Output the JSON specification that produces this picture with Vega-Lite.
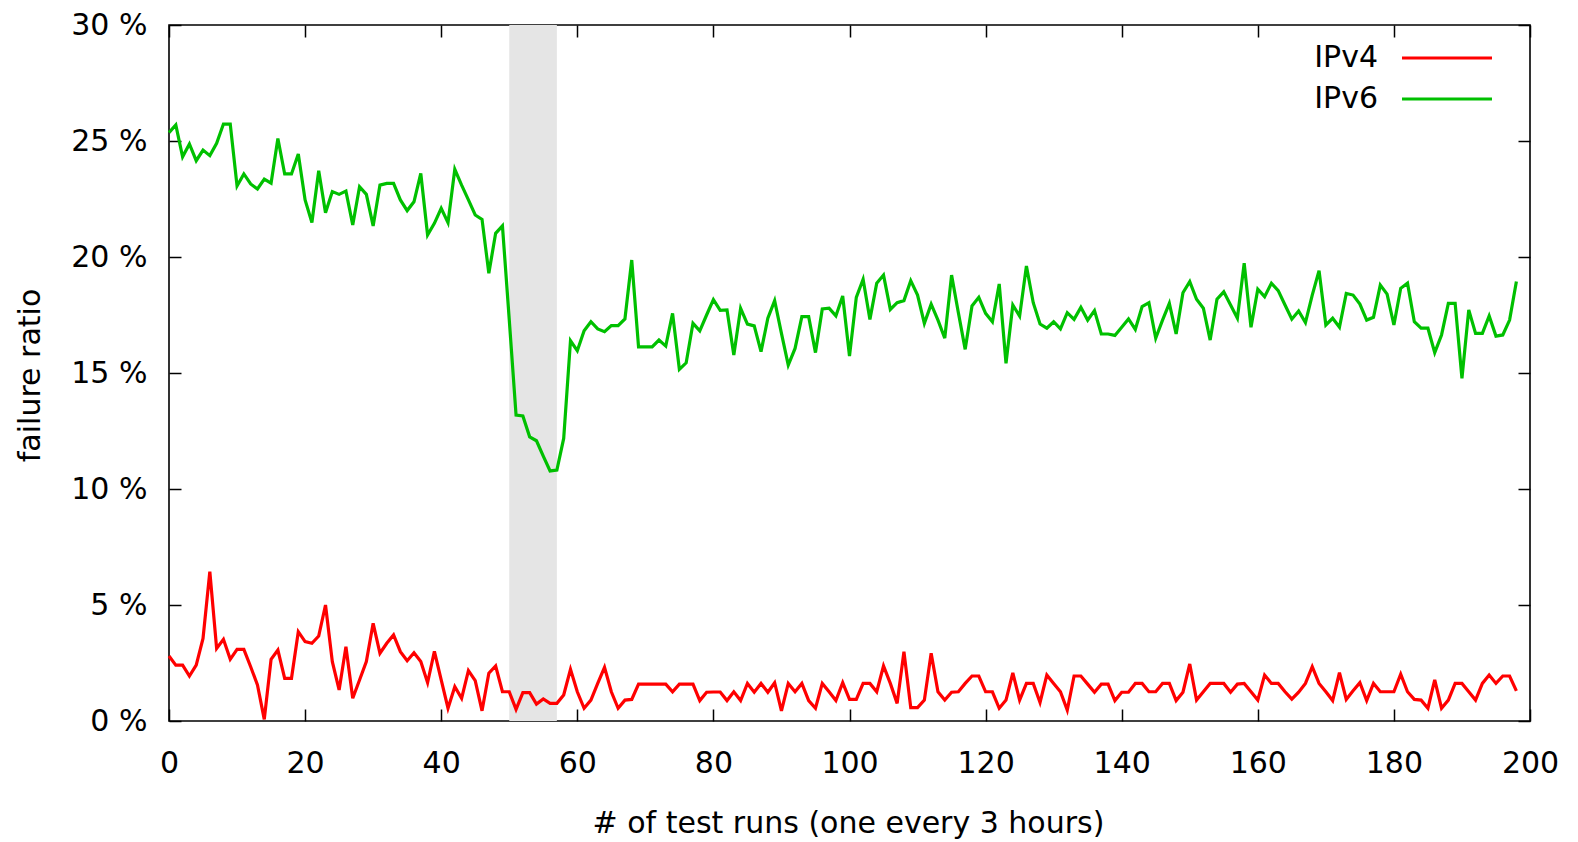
{
  "$schema": "https://vega.github.io/schema/vega-lite/v6.json",
  "width": 1361,
  "height": 696,
  "autosize": "none",
  "padding": {"left": 169, "top": 25, "right": 48, "bottom": 121},
  "background": "white",
  "config": {
    "view": {"stroke": "black", "strokeWidth": 1.6},
    "font": "DejaVu Sans",
    "axis": {
      "grid": false, "domain": false, "tickColor": "black", "tickWidth": 1.5, "tickSize": -12,
      "labelFont": "DejaVu Sans", "labelFontSize": 30, "labelColor": "black",
      "titleFont": "DejaVu Sans", "titleFontSize": 30, "titleFontWeight": "normal", "titleColor": "black"
    },
    "legend": {
      "orient": "none", "legendX": 1263, "legendY": 18, "title": null,
      "symbolType": "M-4,0L4,0", "symbolSize": 506, "symbolStrokeWidth": 3,
      "labelFont": "DejaVu Sans", "labelFontSize": 30, "labelColor": "black",
      "labelAlign": "right", "labelOffset": -84, "rowPadding": 11
    }
  },
  "datasets": {
    "runs": [
      {"run":0,"IPv4":2.8,"IPv6":25.36},{"run":1,"IPv4":2.41,"IPv6":25.69},{"run":2,"IPv4":2.41,"IPv6":24.32},{"run":3,"IPv4":1.94,"IPv6":24.87},{"run":4,"IPv4":2.41,"IPv6":24.15},
      {"run":5,"IPv4":3.56,"IPv6":24.61},{"run":6,"IPv4":6.44,"IPv6":24.37},{"run":7,"IPv4":3.13,"IPv6":24.9},{"run":8,"IPv4":3.52,"IPv6":25.73},{"run":9,"IPv4":2.66,"IPv6":25.73},
      {"run":10,"IPv4":3.09,"IPv6":23.06},{"run":11,"IPv4":3.09,"IPv6":23.58},{"run":12,"IPv4":2.34,"IPv6":23.15},{"run":13,"IPv4":1.55,"IPv6":22.93},{"run":14,"IPv4":0.07,"IPv6":23.36},
      {"run":15,"IPv4":2.66,"IPv6":23.18},{"run":16,"IPv4":3.06,"IPv6":25.11},{"run":17,"IPv4":1.84,"IPv6":23.58},{"run":18,"IPv4":1.84,"IPv6":23.58},{"run":19,"IPv4":3.85,"IPv6":24.44},
      {"run":20,"IPv4":3.42,"IPv6":22.46},{"run":21,"IPv4":3.35,"IPv6":21.49},{"run":22,"IPv4":3.66,"IPv6":23.72},{"run":23,"IPv4":5.0,"IPv6":21.91},{"run":24,"IPv4":2.56,"IPv6":22.82},
      {"run":25,"IPv4":1.34,"IPv6":22.7},{"run":26,"IPv4":3.2,"IPv6":22.84},{"run":27,"IPv4":0.98,"IPv6":21.38},{"run":28,"IPv4":1.77,"IPv6":23.03},{"run":29,"IPv4":2.56,"IPv6":22.7},
      {"run":30,"IPv4":4.21,"IPv6":21.34},{"run":31,"IPv4":2.92,"IPv6":23.1},{"run":32,"IPv4":3.35,"IPv6":23.17},{"run":33,"IPv4":3.71,"IPv6":23.17},{"run":34,"IPv4":2.99,"IPv6":22.46},
      {"run":35,"IPv4":2.6,"IPv6":22.0},{"run":36,"IPv4":2.94,"IPv6":22.38},{"run":37,"IPv4":2.56,"IPv6":23.6},{"run":38,"IPv4":1.65,"IPv6":20.95},{"run":39,"IPv4":3.0,"IPv6":21.45},
      {"run":40,"IPv4":1.77,"IPv6":22.1},{"run":41,"IPv4":0.55,"IPv6":21.48},{"run":42,"IPv4":1.48,"IPv6":23.78},{"run":43,"IPv4":0.98,"IPv6":23.1},{"run":44,"IPv4":2.17,"IPv6":22.46},
      {"run":45,"IPv4":1.74,"IPv6":21.81},{"run":46,"IPv4":0.44,"IPv6":21.62},{"run":47,"IPv4":2.06,"IPv6":19.3},{"run":48,"IPv4":2.37,"IPv6":21.02},{"run":49,"IPv4":1.26,"IPv6":21.34},
      {"run":50,"IPv4":1.26,"IPv6":17.3},{"run":51,"IPv4":0.5,"IPv6":13.19},{"run":52,"IPv4":1.22,"IPv6":13.15},{"run":53,"IPv4":1.22,"IPv6":12.25},{"run":54,"IPv4":0.73,"IPv6":12.08},
      {"run":55,"IPv4":0.95,"IPv6":11.42},{"run":56,"IPv4":0.76,"IPv6":10.78},{"run":57,"IPv4":0.76,"IPv6":10.82},{"run":58,"IPv4":1.12,"IPv6":12.18},{"run":59,"IPv4":2.23,"IPv6":16.39},
      {"run":60,"IPv4":1.26,"IPv6":15.96},{"run":61,"IPv4":0.55,"IPv6":16.82},{"run":62,"IPv4":0.9,"IPv6":17.21},{"run":63,"IPv4":1.62,"IPv6":16.9},{"run":64,"IPv4":2.31,"IPv6":16.78},
      {"run":65,"IPv4":1.26,"IPv6":17.04},{"run":66,"IPv4":0.55,"IPv6":17.04},{"run":67,"IPv4":0.9,"IPv6":17.33},{"run":68,"IPv4":0.93,"IPv6":19.87},{"run":69,"IPv4":1.59,"IPv6":16.13},
      {"run":70,"IPv4":1.59,"IPv6":16.13},{"run":71,"IPv4":1.59,"IPv6":16.13},{"run":72,"IPv4":1.59,"IPv6":16.42},{"run":73,"IPv4":1.59,"IPv6":16.16},{"run":74,"IPv4":1.26,"IPv6":17.57},
      {"run":75,"IPv4":1.59,"IPv6":15.16},{"run":76,"IPv4":1.59,"IPv6":15.44},{"run":77,"IPv4":1.59,"IPv6":17.14},{"run":78,"IPv4":0.88,"IPv6":16.82},{"run":79,"IPv4":1.24,"IPv6":17.5},
      {"run":80,"IPv4":1.25,"IPv6":18.16},{"run":81,"IPv4":1.25,"IPv6":17.7},{"run":82,"IPv4":0.88,"IPv6":17.72},{"run":83,"IPv4":1.26,"IPv6":15.78},{"run":84,"IPv4":0.88,"IPv6":17.79},
      {"run":85,"IPv4":1.62,"IPv6":17.11},{"run":86,"IPv4":1.24,"IPv6":17.03},{"run":87,"IPv4":1.62,"IPv6":15.92},{"run":88,"IPv4":1.24,"IPv6":17.36},{"run":89,"IPv4":1.65,"IPv6":18.12},
      {"run":90,"IPv4":0.44,"IPv6":16.71},{"run":91,"IPv4":1.62,"IPv6":15.34},{"run":92,"IPv4":1.26,"IPv6":16.06},{"run":93,"IPv4":1.62,"IPv6":17.43},{"run":94,"IPv4":0.88,"IPv6":17.43},
      {"run":95,"IPv4":0.55,"IPv6":15.88},{"run":96,"IPv4":1.62,"IPv6":17.76},{"run":97,"IPv4":1.26,"IPv6":17.79},{"run":98,"IPv4":0.88,"IPv6":17.46},{"run":99,"IPv4":1.65,"IPv6":18.32},
      {"run":100,"IPv4":0.93,"IPv6":15.73},{"run":101,"IPv4":0.93,"IPv6":18.26},{"run":102,"IPv4":1.62,"IPv6":19.04},{"run":103,"IPv4":1.62,"IPv6":17.31},{"run":104,"IPv4":1.26,"IPv6":18.87},
      {"run":105,"IPv4":2.37,"IPv6":19.22},{"run":106,"IPv4":1.62,"IPv6":17.74},{"run":107,"IPv4":0.76,"IPv6":18.03},{"run":108,"IPv4":2.99,"IPv6":18.12},{"run":109,"IPv4":0.58,"IPv6":18.98},
      {"run":110,"IPv4":0.58,"IPv6":18.36},{"run":111,"IPv4":0.9,"IPv6":17.14},{"run":112,"IPv4":2.92,"IPv6":17.97},{"run":113,"IPv4":1.26,"IPv6":17.28},{"run":114,"IPv4":0.9,"IPv6":16.5},
      {"run":115,"IPv4":1.24,"IPv6":19.22},{"run":116,"IPv4":1.26,"IPv6":17.6},{"run":117,"IPv4":1.62,"IPv6":16.02},{"run":118,"IPv4":1.94,"IPv6":17.89},{"run":119,"IPv4":1.94,"IPv6":18.26},
      {"run":120,"IPv4":1.26,"IPv6":17.57},{"run":121,"IPv4":1.26,"IPv6":17.21},{"run":122,"IPv4":0.55,"IPv6":18.84},{"run":123,"IPv4":0.9,"IPv6":15.42},{"run":124,"IPv4":2.07,"IPv6":17.93},
      {"run":125,"IPv4":0.9,"IPv6":17.45},{"run":126,"IPv4":1.62,"IPv6":19.61},{"run":127,"IPv4":1.62,"IPv6":18.03},{"run":128,"IPv4":0.8,"IPv6":17.11},{"run":129,"IPv4":1.98,"IPv6":16.93},
      {"run":130,"IPv4":1.62,"IPv6":17.21},{"run":131,"IPv4":1.26,"IPv6":16.9},{"run":132,"IPv4":0.47,"IPv6":17.6},{"run":133,"IPv4":1.94,"IPv6":17.31},{"run":134,"IPv4":1.94,"IPv6":17.83},
      {"run":135,"IPv4":1.59,"IPv6":17.28},{"run":136,"IPv4":1.24,"IPv6":17.69},{"run":137,"IPv4":1.59,"IPv6":16.68},{"run":138,"IPv4":1.59,"IPv6":16.68},{"run":139,"IPv4":0.88,"IPv6":16.62},
      {"run":140,"IPv4":1.24,"IPv6":16.97},{"run":141,"IPv4":1.24,"IPv6":17.33},{"run":142,"IPv4":1.62,"IPv6":16.88},{"run":143,"IPv4":1.62,"IPv6":17.86},{"run":144,"IPv4":1.26,"IPv6":18.03},
      {"run":145,"IPv4":1.26,"IPv6":16.5},{"run":146,"IPv4":1.62,"IPv6":17.28},{"run":147,"IPv4":1.62,"IPv6":18.0},{"run":148,"IPv4":0.88,"IPv6":16.68},{"run":149,"IPv4":1.24,"IPv6":18.46},
      {"run":150,"IPv4":2.46,"IPv6":18.94},{"run":151,"IPv4":0.9,"IPv6":18.18},{"run":152,"IPv4":1.26,"IPv6":17.79},{"run":153,"IPv4":1.62,"IPv6":16.42},{"run":154,"IPv4":1.62,"IPv6":18.18},
      {"run":155,"IPv4":1.62,"IPv6":18.5},{"run":156,"IPv4":1.24,"IPv6":17.93},{"run":157,"IPv4":1.59,"IPv6":17.36},{"run":158,"IPv4":1.62,"IPv6":19.73},{"run":159,"IPv4":1.26,"IPv6":16.97},
      {"run":160,"IPv4":0.9,"IPv6":18.61},{"run":161,"IPv4":1.98,"IPv6":18.29},{"run":162,"IPv4":1.62,"IPv6":18.87},{"run":163,"IPv4":1.62,"IPv6":18.55},{"run":164,"IPv4":1.26,"IPv6":17.93},
      {"run":165,"IPv4":0.94,"IPv6":17.32},{"run":166,"IPv4":1.24,"IPv6":17.67},{"run":167,"IPv4":1.62,"IPv6":17.17},{"run":168,"IPv4":2.34,"IPv6":18.36},{"run":169,"IPv4":1.62,"IPv6":19.41},
      {"run":170,"IPv4":1.26,"IPv6":17.07},{"run":171,"IPv4":0.88,"IPv6":17.36},{"run":172,"IPv4":2.08,"IPv6":16.97},{"run":173,"IPv4":0.93,"IPv6":18.43},{"run":174,"IPv4":1.3,"IPv6":18.36},
      {"run":175,"IPv4":1.65,"IPv6":17.97},{"run":176,"IPv4":0.88,"IPv6":17.28},{"run":177,"IPv4":1.62,"IPv6":17.4},{"run":178,"IPv4":1.26,"IPv6":18.79},{"run":179,"IPv4":1.26,"IPv6":18.4},
      {"run":180,"IPv4":1.26,"IPv6":17.07},{"run":181,"IPv4":2.02,"IPv6":18.65},{"run":182,"IPv4":1.26,"IPv6":18.87},{"run":183,"IPv4":0.93,"IPv6":17.21},{"run":184,"IPv4":0.9,"IPv6":16.93},
      {"run":185,"IPv4":0.55,"IPv6":16.93},{"run":186,"IPv4":1.77,"IPv6":15.88},{"run":187,"IPv4":0.55,"IPv6":16.64},{"run":188,"IPv4":0.9,"IPv6":18.0},{"run":189,"IPv4":1.62,"IPv6":18.0},
      {"run":190,"IPv4":1.62,"IPv6":14.77},{"run":191,"IPv4":1.26,"IPv6":17.72},{"run":192,"IPv4":0.9,"IPv6":16.71},{"run":193,"IPv4":1.62,"IPv6":16.71},{"run":194,"IPv4":1.98,"IPv6":17.46},
      {"run":195,"IPv4":1.62,"IPv6":16.59},{"run":196,"IPv4":1.94,"IPv6":16.64},{"run":197,"IPv4":1.94,"IPv6":17.28},{"run":198,"IPv4":1.3,"IPv6":18.94}
    ],
    "outage": [{"start": 50, "end": 57}]
  },
  "layer": [
    {
      "data": {"name": "outage"},
      "mark": {"type": "rect", "color": "#e5e5e5"},
      "encoding": {
        "x": {"field": "start", "type": "quantitative", "scale": {"domain": [0, 200], "nice": false}, "axis": null},
        "x2": {"field": "end"}
      }
    },
    {
      "data": {"name": "runs"},
      "transform": [{"fold": ["IPv4", "IPv6"], "as": ["protocol", "ratio"]}],
      "mark": {"type": "line", "strokeWidth": 3.2, "strokeJoin": "miter"},
      "encoding": {
        "x": {
          "field": "run", "type": "quantitative", "scale": {"domain": [0, 200], "nice": false},
          "axis": {"orient": "bottom", "values": [0,20,40,60,80,100,120,140,160,180,200], "labelFlush": false, "labelPadding": 39,
                   "title": "# of test runs (one every 3 hours)", "titleX": 679, "titleY": 102, "titleBaseline": "middle", "titleAnchor": "middle"}
        },
        "y": {
          "field": "ratio", "type": "quantitative", "scale": {"domain": [0, 30], "nice": false},
          "axis": {"orient": "left", "values": [0,5,10,15,20,25,30], "labelExpr": "datum.value + ' %'", "labelPadding": 34, "labelOffset": 0,
                   "title": "failure ratio", "titleX": -139, "titleY": 350, "titleAngle": -90, "titleBaseline": "middle", "titleAnchor": "middle"}
        },
        "color": {
          "field": "protocol", "type": "nominal",
          "scale": {"domain": ["IPv4", "IPv6"], "range": ["#ff0000", "#00c000"]},
          "legend": {}
        }
      }
    },
    {
      "data": {"name": "runs"},
      "mark": {"type": "point", "opacity": 0},
      "encoding": {
        "x": {"field": "run", "type": "quantitative", "scale": {"domain": [0, 200], "nice": false},
              "axis": {"orient": "top", "values": [0,20,40,60,80,100,120,140,160,180,200], "labels": false, "title": null}},
        "y": {"field": "IPv6", "type": "quantitative", "scale": {"domain": [0, 30], "nice": false},
              "axis": {"orient": "right", "values": [0,5,10,15,20,25,30], "labels": false, "title": null}}
      }
    }
  ],
  "resolve": {"axis": {"x": "independent", "y": "independent"}}
}
